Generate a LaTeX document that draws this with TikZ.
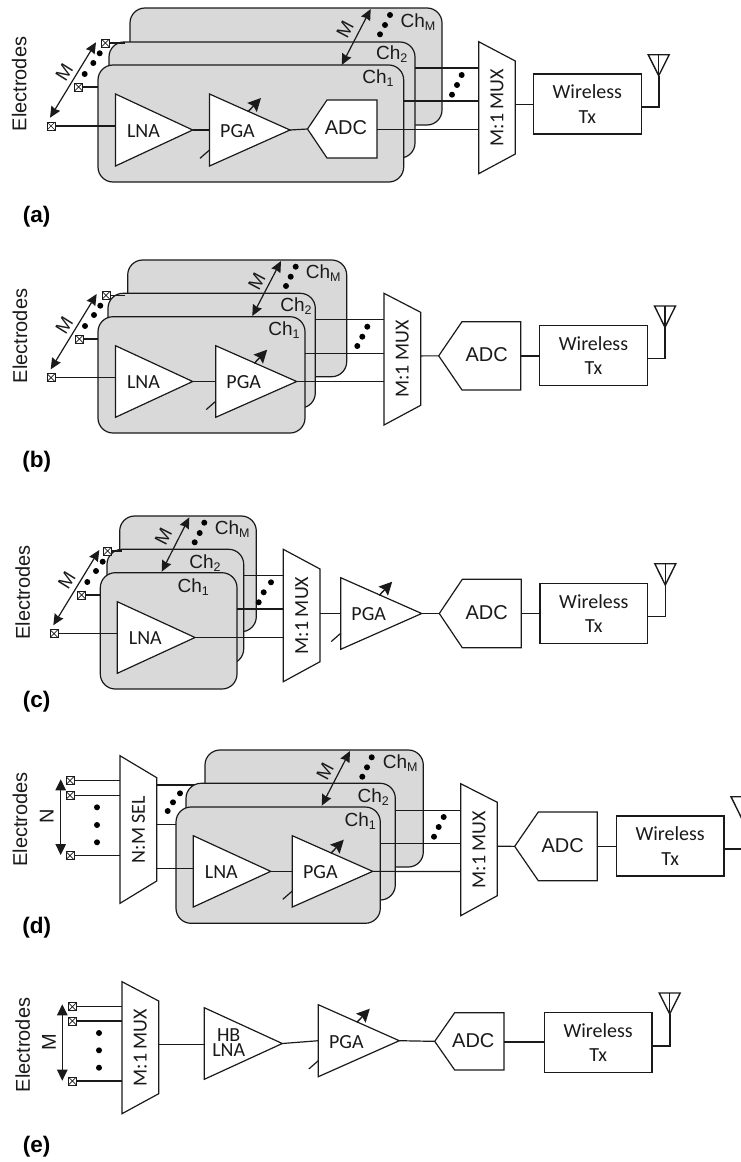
\documentclass[tikz,border=0pt]{standalone}
\usepackage{fontspec}
\setmainfont{Liberation Sans}
\newfontfamily\carl{Carlito}
\usetikzlibrary{arrows.meta}
\definecolor{boxgray}{HTML}{D9D9D9}
\definecolor{ink}{HTML}{1A1A1A}
\tikzset{
  wire/.style={draw=ink,line width=1.2pt,line join=miter},
  thickwire/.style={draw=ink,line width=1.6pt,line join=miter},
  block/.style={draw=ink,line width=1.2pt,fill=white,line join=miter},
  chbox/.style={draw=ink,line width=1.2pt,fill=boxgray,rounded corners=15pt,anchor=north west,inner sep=0pt,outer sep=0pt},
  elec/.style={draw=ink,line width=.9pt,fill=white,minimum size=8pt,inner sep=0pt,outer sep=0pt,
    path picture={\draw[ink,line width=.7pt] (path picture bounding box.north west)--(path picture bounding box.south east)
      (path picture bounding box.north east)--(path picture bounding box.south west);}},
  dotn/.style={circle,fill=black,minimum size=6pt,inner sep=0pt,outer sep=0pt},
  dbl/.style={ink,line width=1.2pt,{Stealth[length=11pt,width=10pt,inset=1pt]}-{Stealth[length=11pt,width=10pt,inset=1pt]}},
  vert/.style={ink,line width=1.2pt,{Stealth[length=11pt,width=10.5pt,inset=0pt]}-{Stealth[length=11pt,width=10.5pt,inset=0pt]}},
  gain/.style={ink,line width=1.4pt,-{Stealth[length=13pt,width=13pt,inset=2pt]}},
  txc/.style={text=ink,font=\carl\fontsize{20}{24.5}\selectfont,inner sep=0pt,align=center},
  txhb/.style={text=ink,font=\carl\fontsize{20}{15}\selectfont,inner sep=0pt,align=center},
  txa/.style={text=ink,font=\fontsize{20}{24}\selectfont,inner sep=0pt},
  txch/.style={text=ink,font=\fontsize{19}{20}\selectfont,inner sep=0pt},
  txm/.style={text=ink,font=\fontsize{19}{20}\selectfont,inner sep=0pt},
  txp/.style={text=black,font=\bfseries\fontsize{22.5}{24}\selectfont,inner sep=0pt},
  wbox/.style={draw=ink,line width=1.2pt,fill=white,anchor=north west,inner sep=0pt,outer sep=0pt,
    text=ink,font=\carl\fontsize{20}{24.5}\selectfont,align=center},
}
\newcommand{\chb}[5]{\node[chbox,minimum width={(#4-#2)*1pt},minimum height={(#5-#3)*1pt}] (#1) at (#2,#3) {};}
\newcommand{\chl}[2]{Ch\raisebox{-3pt}{\fontsize{12.5}{12}\selectfont #1}}
\newcommand{\port}[3]{\coordinate (#1) at (#2,#3);}
\newcommand{\link}[2]{\draw[wire] (#1) -- (#2);}
% name, left, top, tip x, bottom, label
\newcommand{\amp}[6]{%
  \coordinate (#1-tl) at (#2,#3);
  \coordinate (#1-bl) at (#2,#5);
  \coordinate (#1-out) at (#4,{(#3+#5)/2});
  \filldraw[block] (#1-tl) -- (#1-out) -- (#1-bl) -- cycle;
  \node[txc] (#1-t) at ({#2+28},{(#3+#5)/2+1}) {#6};}
\newcommand{\vga}[5]{%
  \amp{#1}{#2}{#3}{#4}{#5}{PGA}
  \coordinate (#1-ga) at ({#2+38.5},{#3+17.7});
  \coordinate (#1-gb) at ({#2+51.5},{#3+4});
  \coordinate (#1-ca) at ({#2-9.5},{#5-7.7});
  \coordinate (#1-cb) at (#2,{#5-16});
  \draw[gain] (#1-ga) -- (#1-gb);
  \draw[wire] (#1-ca) -- (#1-cb);}
% name, xl, xr, y1, y2, y3, y4, label (rotated)
\newcommand{\mux}[8]{%
  \coordinate (#1-a) at (#2,#4);
  \coordinate (#1-b) at (#3,#5);
  \coordinate (#1-c) at (#3,#6);
  \coordinate (#1-d) at (#2,#7);
  \filldraw[block] (#1-a) -- (#1-b) -- (#1-c) -- (#1-d) -- cycle;
  \node[txc,rotate=90] (#1-t) at ({(#2+#3)/2},{(#4+#7)/2}) {#8};}
% name, tip x, xl, xr, yt, yb, text x
\newcommand{\adc}[7]{%
  \coordinate (#1-tip) at (#2,{(#5+#6)/2});
  \coordinate (#1-tl) at (#3,#5);
  \coordinate (#1-tr) at (#4,#5);
  \coordinate (#1-br) at (#4,#6);
  \coordinate (#1-bl) at (#3,#6);
  \filldraw[block] (#1-tip) -- (#1-tl) -- (#1-tr) -- (#1-br) -- (#1-bl) -- cycle;
  \node[txa] (#1-t) at (#7,{(#5+#6)/2-1}) {ADC};}
% name, xl, xr, yt, yb
\newcommand{\wtx}[5]{\node[wbox,minimum width={(#3-#2)*1pt},minimum height={(#5-#4)*1pt}] (#1) at (#2,#4) {Wireless\\Tx};}
% name, x0, y foot, x, y apex, y top
\newcommand{\ant}[6]{%
  \coordinate (#1-f) at (#2,#3);
  \coordinate (#1-k) at (#4,#3);
  \coordinate (#1-ap) at (#4,#5);
  \coordinate (#1-tl) at ({#4-10.5},#6);
  \coordinate (#1-tr) at ({#4+10.5},#6);
  \coordinate (#1-tm) at (#4,#6);
  \draw[thickwire] (#1-f) -- (#1-k) -- (#1-ap);
  \draw[wire,line width=1.4pt] (#1-tl) -- (#1-tr) -- (#1-ap) -- cycle;
  \draw[wire] (#1-ap) -- (#1-tm);}
\newcommand{\bdot}[3]{\node[dotn] (#1) at (#2,#3) {};}
\begin{document}
\begin{tikzpicture}[x=1pt,y=-1pt]
\useasboundingbox (0,0) rectangle (741,1162);
\clip (0,0) rectangle (741,1162);
% ===== (a)
\node[txa,rotate=90] (a-el) at (19.3,84) {Electrodes};
\chb{a-chM}{130}{8}{442}{125}
\chb{a-ch2}{109}{42}{415}{158}
\chb{a-ch1}{98}{65}{403.7}{182}
\node[txch] (a-lM) at (418,21.7) {\chl{M}{}};
\node[txch] (a-l2) at (391.7,54) {\chl{2}{}};
\node[txch] (a-l1) at (378,78) {\chl{1}{}};
\node[elec] (a-e1) at (51,126) {};
\node[elec] (a-e2) at (78.7,87) {};
\node[elec] (a-e3) at (105.3,43) {};
\port{a-p1}{115.5}{126}\port{a-p2}{98}{87}\port{a-p3}{125}{43}
\link{a-e1}{a-p1}\link{a-e2}{a-p2}\link{a-e3}{a-p3}
\amp{a-lna}{115.5}{94}{192.7}{166}{LNA}
\vga{a-pga}{209.5}{94}{290}{166}
\adc{a-adc}{307.5}{327}{377}{100}{158}{346}
\link{a-lna-out}{a-pga-out -| a-pga-tl}
\link{a-pga-out}{a-adc-tip}
\mux{a-mux}{478.7}{515.3}{41.7}{61}{154}{173.7}{M:1 MUX}
\port{a-w2s}{415}{68}\port{a-w2e}{478.7}{68}\link{a-w2s}{a-w2e}
\port{a-w1s}{403.7}{101}\port{a-w1e}{478.7}{101}\link{a-w1s}{a-w1e}
\port{a-w0s}{377}{129.5}\port{a-w0e}{478.7}{129.5}\link{a-w0s}{a-w0e}
\bdot{a-d1}{461.7}{75}\bdot{a-d2}{457}{85}\bdot{a-d3}{452}{94.7}
\wtx{a-tx}{533.3}{641.3}{74}{134}
\port{a-m1}{515.3}{104.3}\port{a-m2}{533.3}{104.3}\link{a-m1}{a-m2}
\ant{a-ant}{641.3}{107}{658.7}{75.7}{54.7}
\bdot{a-d4}{84.7}{74}\bdot{a-d5}{93.3}{63}\bdot{a-d6}{99.7}{53.3}
\port{a-ar1}{50}{117.7}\port{a-ar2}{96}{42.3}\draw[dbl] (a-ar1) -- (a-ar2);
\node[txm,rotate=58] (a-M1) at (64.3,72.7) {M};
\port{a-ar3}{341.7}{65}\port{a-ar4}{370.7}{9}\draw[dbl] (a-ar3) -- (a-ar4);
\node[txm,rotate=62] (a-M2) at (345,29.3) {M};
\bdot{a-d7}{380}{34.3}\bdot{a-d8}{385}{25}\bdot{a-d9}{390}{15}
\node[txp] (a-cap) at (36.7,217) {(a)};
% ===== (b)
\node[txa,rotate=90] (b-el) at (20,336) {Electrodes};
\chb{b-chM}{127.7}{260}{346.7}{376.7}
\chb{b-ch2}{108}{293.3}{315.3}{408}
\chb{b-ch1}{98}{316.7}{305}{433}
\node[txch] (b-lM) at (323.3,273.3) {\chl{M}{}};
\node[txch] (b-l2) at (296,306) {\chl{2}{}};
\node[txch] (b-l1) at (284,330) {\chl{1}{}};
\node[elec] (b-e1) at (51,377.7) {};
\node[elec] (b-e2) at (79.3,339) {};
\node[elec] (b-e3) at (106,295.3) {};
\port{b-p1}{115.5}{377.7}\port{b-p2}{98}{339}\port{b-p3}{125}{295.3}
\link{b-e1}{b-p1}\link{b-e2}{b-p2}\link{b-e3}{b-p3}
\amp{b-lna}{115.5}{345.7}{192.7}{417.3}{LNA}
\vga{b-pga}{215.7}{345.7}{296.7}{417.3}
\link{b-lna-out}{b-pga-out -| b-pga-tl}
\mux{b-mux}{384}{420.7}{293.3}{312.3}{405.3}{425}{M:1 MUX}
\port{b-w2s}{315.3}{319.7}\port{b-w2e}{384}{319.7}\link{b-w2s}{b-w2e}
\port{b-w1s}{305}{353.3}\port{b-w1e}{384}{353.3}\link{b-w1s}{b-w1e}
\port{b-w0e}{384}{381.5}\link{b-pga-out}{b-w0e}
\bdot{b-d1}{367.3}{326.7}\bdot{b-d2}{362.3}{336.7}\bdot{b-d3}{357.3}{346}
\adc{b-adc}{438.7}{462}{520.7}{321.7}{390}{486.7}
\port{b-m1}{420.7}{355.9}\link{b-m1}{b-adc-tip}
\wtx{b-tx}{539.7}{647.3}{325.7}{385.7}
\port{b-m2}{520.7}{355.9}\port{b-m3}{539.7}{355.9}\link{b-m2}{b-m3}
\ant{b-ant}{647.3}{358.3}{665}{327.3}{306}
\bdot{b-d4}{85}{326}\bdot{b-d5}{94}{315}\bdot{b-d6}{100.3}{305.7}
\port{b-ar1}{50.7}{369.3}\port{b-ar2}{96.7}{294}\draw[dbl] (b-ar1) -- (b-ar2);
\node[txm,rotate=58] (b-M1) at (64.3,325) {M};
\port{b-ar3}{252.3}{316}\port{b-ar4}{281}{261}\draw[dbl] (b-ar3) -- (b-ar4);
\node[txm,rotate=62] (b-M2) at (256.7,281.7) {M};
\bdot{b-d7}{286}{286}\bdot{b-d8}{290.7}{276.7}\bdot{b-d9}{295.7}{266.7}
\node[txp] (b-cap) at (36.7,461.7) {(b)};
% ===== (c)
\node[txa,rotate=90] (c-el) at (22.7,592.3) {Electrodes};
\chb{c-chM}{119.7}{516}{256.3}{631.7}
\chb{c-ch2}{107}{549.3}{243.7}{664}
\chb{c-ch1}{100.3}{572.7}{237}{689}
\node[txch] (c-lM) at (232.3,529.3) {\chl{M}{}};
\node[txch] (c-l2) at (205,562.7) {\chl{2}{}};
\node[txch] (c-l1) at (193.3,586.7) {\chl{1}{}};
\node[elec] (c-e1) at (54,633.7) {};
\node[elec] (c-e2) at (81.7,595) {};
\node[elec] (c-e3) at (107.7,551) {};
\port{c-p1}{117.3}{633.7}\port{c-p2}{100.3}{595}\port{c-p3}{122}{551}
\link{c-e1}{c-p1}\link{c-e2}{c-p2}\link{c-e3}{c-p3}
\amp{c-lna}{117.3}{601.7}{195}{673.3}{LNA}
\mux{c-mux}{283.3}{320}{549.3}{569}{661.7}{681.7}{M:1 MUX}
\port{c-w2s}{243.7}{575.7}\port{c-w2e}{283.3}{575.7}\link{c-w2s}{c-w2e}
\port{c-w1s}{237}{609}\port{c-w1e}{283.3}{609}\link{c-w1s}{c-w1e}
\port{c-w0e}{283.3}{637.5}\link{c-lna-out}{c-w0e}
\bdot{c-d1}{271}{582.3}\bdot{c-d2}{263.7}{592.3}\bdot{c-d3}{258.7}{602.3}
\vga{c-pga}{340.7}{577.7}{421.7}{649.3}
\port{c-m1}{320}{613.5}\link{c-m1}{c-pga-out -| c-pga-tl}
\adc{c-adc}{439.3}{462.3}{521.3}{579.3}{647.7}{486.7}
\link{c-pga-out}{c-adc-tip}
\wtx{c-tx}{540}{647.7}{583.3}{643.3}
\port{c-m2}{521.3}{613.4}\port{c-m3}{540}{613.4}\link{c-m2}{c-m3}
\ant{c-ant}{647.7}{616.3}{665.3}{585}{563.7}
\bdot{c-d4}{87.3}{582}\bdot{c-d5}{96}{571}\bdot{c-d6}{102.7}{561.7}
\port{c-ar1}{53.3}{625.3}\port{c-ar2}{99.3}{550}\draw[dbl] (c-ar1) -- (c-ar2);
\node[txm,rotate=58] (c-M1) at (66.7,580.7) {M};
\port{c-ar3}{161.7}{571.7}\port{c-ar4}{189.3}{517.3}\draw[dbl] (c-ar3) -- (c-ar4);
\node[txm,rotate=63] (c-M2) at (163.3,536.7) {M};
\bdot{c-d7}{194.7}{542.3}\bdot{c-d8}{199.7}{533}\bdot{c-d9}{204.3}{522.7}
\node[txp] (c-cap) at (36.7,701.7) {(c)};
% ===== (d)
\node[txa,rotate=90] (d-el) at (20,819.3) {Electrodes};
\node[txa,rotate=90] (d-N) at (46.7,816) {N};
\node[elec] (d-e1) at (70,780.7) {};
\node[elec] (d-e2) at (70,795.3) {};
\node[elec] (d-e3) at (70,855.7) {};
\mux{d-sel}{120}{156.7}{755.7}{777.7}{881}{903.3}{N:M SEL}
\port{d-p1}{120}{780.7}\port{d-p2}{120}{795.3}\port{d-p3}{120}{855.7}
\link{d-e1}{d-p1}\link{d-e2}{d-p2}\link{d-e3}{d-p3}
\port{d-ar1}{60.7}{779.3}\port{d-ar2}{60.7}{855}\draw[vert] (d-ar1) -- (d-ar2);
\bdot{d-d1}{97}{807.3}\bdot{d-d2}{97}{825}\bdot{d-d3}{97}{842.3}
\port{d-o3s}{156.7}{785}\port{d-o3e}{206}{785}\link{d-o3s}{d-o3e}
\chb{d-chM}{205}{750}{423.3}{867}
\chb{d-ch2}{186}{783.3}{395.3}{900}
\chb{d-ch1}{176}{807}{380.3}{923.3}
\node[txch] (d-lM) at (400.3,763.3) {\chl{M}{}};
\node[txch] (d-l2) at (373.3,797.3) {\chl{2}{}};
\node[txch] (d-l1) at (360.3,820.7) {\chl{1}{}};
\port{d-o2s}{156.7}{824.3}\port{d-o2e}{176}{824.3}\link{d-o2s}{d-o2e}
\port{d-o1s}{156.7}{868.3}\port{d-o1e}{193.3}{868.3}\link{d-o1s}{d-o1e}
\bdot{d-d4}{167.7}{811}\bdot{d-d5}{173}{802.3}\bdot{d-d6}{180}{793.3}
\amp{d-lna}{193.3}{835.7}{270.7}{907}{LNA}
\vga{d-pga}{292.3}{835.7}{372.7}{907}
\link{d-lna-out}{d-pga-out -| d-pga-tl}
\mux{d-mux}{460.7}{497.3}{783.7}{802.3}{895.7}{915.7}{M:1 MUX}
\port{d-w2s}{395.3}{810.3}\port{d-w2e}{460.7}{810.3}\link{d-w2s}{d-w2e}
\port{d-w1s}{380.3}{843.7}\port{d-w1e}{460.7}{843.7}\link{d-w1s}{d-w1e}
\port{d-w0e}{460.7}{871.5}\link{d-pga-out}{d-w0e}
\bdot{d-d7}{443.7}{817}\bdot{d-d8}{438.7}{827}\bdot{d-d9}{434}{836.7}
\adc{d-adc}{514.7}{538.3}{597.3}{812}{880.7}{562.7}
\port{d-m1}{497.3}{846.3}\link{d-m1}{d-adc-tip}
\wtx{d-tx}{616.3}{724}{816}{876}
\port{d-m2}{597.3}{846.3}\port{d-m3}{616.3}{846.3}\link{d-m2}{d-m3}
\ant{d-ant}{724}{848.7}{741.5}{818}{796.7}
\port{d-ar3}{321.7}{805.7}\port{d-ar4}{350}{751}\draw[dbl] (d-ar3) -- (d-ar4);
\node[txm,rotate=62] (d-M2) at (325,771.7) {M};
\bdot{d-d10}{362.3}{776.7}\bdot{d-d11}{367}{767.3}\bdot{d-d12}{371.7}{757.3}
\node[txp] (d-cap) at (36.7,927.3) {(d)};
% ===== (e)
\node[txa,rotate=90] (e-el) at (22.7,1045) {Electrodes};
\node[txa,rotate=90] (e-M) at (49,1042.3) {M};
\node[elec] (e-e1) at (72.3,1006.7) {};
\node[elec] (e-e2) at (72.3,1021) {};
\node[elec] (e-e3) at (72.3,1081) {};
\mux{e-mux}{122}{158.7}{981.7}{1001}{1093.7}{1113.7}{M:1 MUX}
\port{e-p1}{122}{1006.7}\port{e-p2}{122}{1021}\port{e-p3}{122}{1081}
\link{e-e1}{e-p1}\link{e-e2}{e-p2}\link{e-e3}{e-p3}
\port{e-ar1}{62.3}{1004.3}\port{e-ar2}{62.3}{1080.7}\draw[vert] (e-ar1) -- (e-ar2);
\bdot{e-d1}{99}{1033}\bdot{e-d2}{99}{1050.3}\bdot{e-d3}{99}{1067.7}
\amp{e-lna}{204.3}{1007.7}{282.3}{1079.3}{}
\node[txhb] (e-hb) at (228.7,1042.5) {HB\\LNA};
\port{e-m1}{158.7}{1044.7}\port{e-m2}{204.3}{1044.7}\link{e-m1}{e-m2}
\vga{e-pga}{318.3}{1004.7}{399.3}{1076.7}
\link{e-lna-out}{e-pga-out -| e-pga-tl}
\adc{e-adc}{434.7}{454.7}{504}{1012.7}{1070}{473.3}
\link{e-pga-out}{e-adc-tip}
\wtx{e-tx}{544.3}{652}{1012.7}{1072.7}
\port{e-m3}{504}{1042}\port{e-m4}{544.3}{1042}\link{e-m3}{e-m4}
\ant{e-ant}{652}{1045.7}{669.7}{1014}{993}
\node[txp] (e-cap) at (36.7,1146.7) {(e)};
\end{tikzpicture}
\end{document}
